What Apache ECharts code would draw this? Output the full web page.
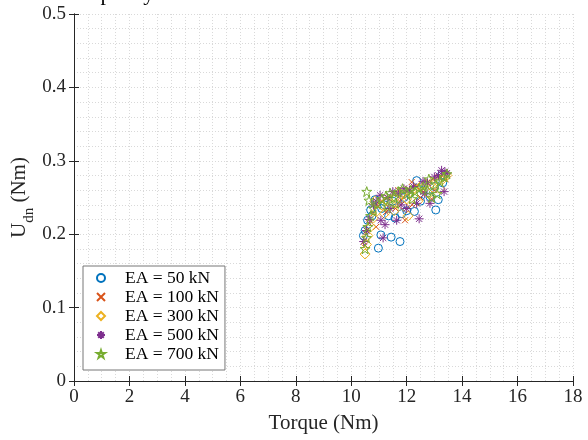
<!DOCTYPE html>
<html>
<head>
<meta charset="utf-8">
<script src="https://cdn.jsdelivr.net/npm/echarts@6/dist/echarts.min.js"></script>
<style>html,body{margin:0;padding:0;background:#fff}#c{width:588px;height:440px}</style>
</head>
<body>
<div id="c"></div>
<script>
var seriesNames = ['EA = 50 kN', 'EA = 100 kN', 'EA = 300 kN', 'EA = 500 kN', 'EA = 700 kN'];
var xTicks = [0, 2, 4, 6, 8, 10, 12, 14, 16, 18];
var yTicks = [0, 0.1, 0.2, 0.3, 0.4, 0.5];

var ea50 = [[10.44,0.198],[10.59,0.219],[10.70,0.233],[10.86,0.247],[10.98,0.181],[11.07,0.199],[11.44,0.196],[11.76,0.190],[11.58,0.222],[11.82,0.228],[12.28,0.231],[12.36,0.273],[12.84,0.251],[13.05,0.233],[13.14,0.247],[10.5,0.205],[10.75,0.225],[11.2,0.24],[11.5,0.245],[11.9,0.25],[12.1,0.255],[12.6,0.26],[13.3,0.27],[13.0,0.265],[11.35,0.225],[12.0,0.232],[12.5,0.245],[13.25,0.28],[11.1,0.235]];
var ea100 = [[10.5,0.185],[10.55,0.2],[10.65,0.215],[10.8,0.228],[10.95,0.238],[11.1,0.245],[11.3,0.25],[11.5,0.255],[11.7,0.26],[11.9,0.25],[12.05,0.262],[12.18,0.271],[12.35,0.265],[12.6,0.258],[12.75,0.27],[12.95,0.275],[13.15,0.278],[13.35,0.282],[11.94,0.219],[11.6,0.235],[12.2,0.24],[12.5,0.25],[11.25,0.23],[13.0,0.26],[13.4,0.275],[10.9,0.21],[11.75,0.245],[12.9,0.248]];
var ea300 = [[10.5,0.173],[10.55,0.186],[10.6,0.198],[10.7,0.21],[10.8,0.222],[10.95,0.232],[11.1,0.24],[11.3,0.245],[11.45,0.24],[11.6,0.25],[11.8,0.255],[12.0,0.248],[12.15,0.258],[12.3,0.262],[12.5,0.265],[12.7,0.268],[12.9,0.27],[13.1,0.272],[13.3,0.275],[13.45,0.28],[11.2,0.228],[11.55,0.232],[11.9,0.238],[12.4,0.245],[12.8,0.255],[13.2,0.262],[10.85,0.245],[12.05,0.225]];
var ea500 = [[10.45,0.19],[10.55,0.205],[10.65,0.22],[10.8,0.24],[11.07,0.219],[11.15,0.195],[11.22,0.213],[11.64,0.219],[12.45,0.221],[12.36,0.242],[12.84,0.242],[13.35,0.258],[13.38,0.285],[13.26,0.287],[12.59,0.272],[11.04,0.253],[10.9,0.245],[11.3,0.25],[11.5,0.258],[11.7,0.255],[11.9,0.262],[12.1,0.26],[12.25,0.265],[12.75,0.27],[13.0,0.278],[13.15,0.28],[13.45,0.283],[11.8,0.24],[12.0,0.235],[11.4,0.235],[12.65,0.255]];
var ea700 = [[10.56,0.258],[10.64,0.246],[10.5,0.18],[10.55,0.195],[10.6,0.21],[10.7,0.225],[10.8,0.235],[10.95,0.242],[11.1,0.248],[11.25,0.252],[11.4,0.256],[11.55,0.25],[11.7,0.258],[11.85,0.262],[12.0,0.255],[12.15,0.26],[12.3,0.258],[12.45,0.262],[12.6,0.265],[12.75,0.26],[12.9,0.25],[13.05,0.268],[13.2,0.272],[13.35,0.278],[13.45,0.282],[11.3,0.238],[11.6,0.242],[12.2,0.248],[12.8,0.275],[13.1,0.255]];

var FONT = 'Liberation Serif';
var colors = ['#0072BD', '#D95319', '#EDB120', '#7E2F8E', '#77AC30'];
var symbols = [
  'circle',
  'path://M0,0L10,10M0,10L10,0',
  'diamond',
  'path://M5,0L5,10M0,5L10,5M1.5,1.5L8.5,8.5M1.5,8.5L8.5,1.5',
  'path://M50,0L61.8,35.5L100,35.5L69.1,57.5L80.9,95L50,72.5L19.1,95L30.9,57.5L0,35.5L38.2,35.5Z'
];
var sizes = [8, 6, 10, 9, 10];
var allData = [ea50, ea100, ea300, ea500, ea700];

var gridLine = {show: true, lineStyle: {color: '#d9d9d9', type: [1, 2], width: 1}};
var axisLine = {show: true, lineStyle: {color: '#262626', width: 1}};

function xAx(pos, labels) {
  return {
    type: 'value', position: pos, min: 0, max: 18, interval: 2,
    axisLine: axisLine,
    axisTick: {show: true, inside: true, length: 5, lineStyle: {color: '#262626'}},
    axisLabel: {show: labels, color: '#262626', fontFamily: FONT, fontSize: 19, margin: 7},
    splitLine: labels ? gridLine : {show: false},
    minorTick: {show: false, splitNumber: 4},
    minorSplitLine: labels ? gridLine : {show: false},
    name: labels ? 'Torque (Nm)' : '', nameLocation: 'middle', nameGap: 32,
    nameTextStyle: {fontFamily: FONT, fontSize: 21, color: '#262626'}
  };
}
function yAx(pos, labels) {
  return {
    type: 'value', position: pos, min: 0, max: 0.5, interval: 0.1,
    axisLine: axisLine,
    axisTick: {show: true, inside: true, length: 5, lineStyle: {color: '#262626'}},
    axisLabel: {show: labels, color: '#262626', fontFamily: FONT, fontSize: 19, margin: 8,
      formatter: function (v) { return v === 0 ? '0' : v.toFixed(1); }},
    splitLine: labels ? gridLine : {show: false},
    minorTick: {show: false, splitNumber: 5},
    minorSplitLine: labels ? gridLine : {show: false},
    name: labels ? '{u|U}{s|dn}{u| (Nm)}' : '', nameLocation: 'middle', nameGap: 44, nameRotate: 90,
    nameMoveOverlap: false,
    nameTextStyle: {
      rich: {
        u: {fontFamily: FONT, fontSize: 21, color: '#262626', verticalAlign: 'bottom', lineHeight: 24},
        s: {fontFamily: FONT, fontSize: 15, color: '#262626', verticalAlign: 'bottom', padding: [0, 0, -7, 0], lineHeight: 24}
      }
    }
  };
}

var series = allData.map(function (d, i) {
  return {
    name: seriesNames[i], type: 'scatter', xAxisIndex: 0, yAxisIndex: 0,
    data: d, symbol: symbols[i], symbolSize: sizes[i],
    itemStyle: {color: 'rgba(0,0,0,0)', borderColor: colors[i], borderWidth: 1, opacity: 1},
    emphasis: {disabled: true}, animation: false
  };
});

var chart = echarts.init(document.getElementById('c'), null, {renderer: 'canvas'});
chart.setOption({
  animation: false,
  backgroundColor: '#fff',
  grid: {left: 74, right: 15, top: 14, bottom: 59, containLabel: false, outerBoundsMode: 'none'},
  xAxis: [xAx('bottom', true), xAx('top', false)],
  yAxis: [yAx('left', true), yAx('right', false)],
  graphic: [{
    type: 'text', silent: true, x: 76, y: 5,
    style: {text: 'Capacity', font: '22px "Liberation Serif"', fill: '#000', verticalAlign: 'bottom'}
  }],
  legend: {
    orient: 'vertical', left: 83, top: 266,
    backgroundColor: '#fff', borderColor: '#777', borderWidth: 1,
    padding: [3, 6, 7, 13], itemGap: 1, itemWidth: 8, itemHeight: 8,
    textStyle: {fontFamily: FONT, fontSize: 17.5, color: '#000', lineHeight: 14, padding: [0, 0, 0, 15]},
    data: seriesNames
  },
  series: series
});
</script>
</body>
</html>
